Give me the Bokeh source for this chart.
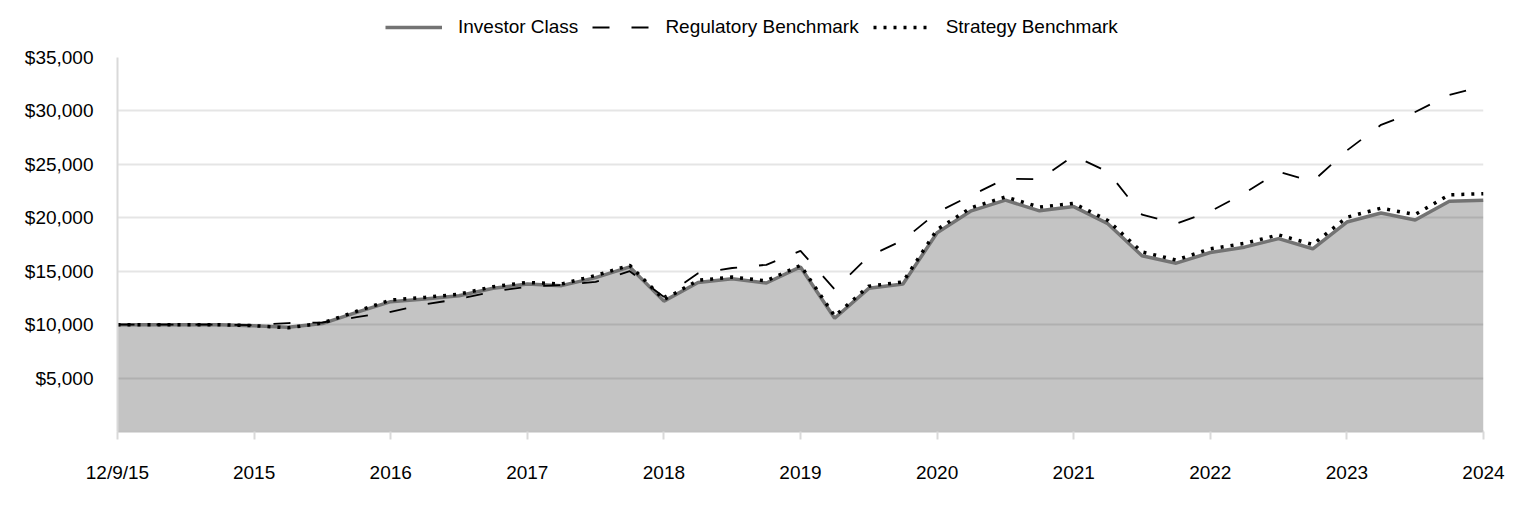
from bokeh.plotting import figure
from bokeh.layouts import column
from bokeh.models import Range1d, FixedTicker, Legend, LegendItem, NumeralTickFormatter
from bokeh.embed import file_html
from bokeh.resources import INLINE

tick_labels = ["12/9/15", "2015", "2016", "2017", "2018", "2019",
               "2020", "2021", "2022", "2023", "2024"]

investor = [10000, 10000, 10000, 10000, 9900, 9750, 10100, 11150, 12150, 12400,
            12700, 13400, 13800, 13650, 14400, 15400, 12200, 13950, 14300, 13900,
            15400, 10600, 13400, 13800, 18600, 20650, 21650, 20650, 21050, 19450,
            16450, 15750, 16750, 17250, 18050, 17100, 19600, 20450, 19800, 21550,
            21650]

strategy = [10000, 10000, 10000, 10000, 9900, 9700, 10150, 11250, 12300, 12550,
            12850, 13550, 13950, 13800, 14600, 15550, 12350, 14150, 14450, 14100,
            15550, 10800, 13600, 14000, 18900, 20950, 21950, 21000, 21350, 19750,
            16800, 16050, 17100, 17600, 18400, 17500, 20050, 20900, 20300, 22150,
            22250]

regulatory = [10000, 10000, 10000, 10000, 9950, 10150, 10200, 10700, 11200, 11900,
              12400, 13100, 13550, 13700, 14000, 15000, 12600, 14800, 15300, 15600,
              16900, 13300, 16400, 17900, 20500, 22100, 23650, 23600, 25800, 24300,
              20300, 19450, 20600, 22300, 24300, 23400, 26300, 28700, 29900, 31500,
              32300]

y_ticks = [5000, 10000, 15000, 20000, 25000, 30000, 35000]

quarter = list(range(len(investor)))
per_label = 4
x_ticks = [per_label * i for i in range(len(tick_labels))]

FONT = "Liberation Sans"
FSIZE = "19px"
W = 1516

INV_STYLE = dict(line_color="#737373", line_width=3.5)
REG_STYLE = dict(line_color="black", line_width=1.8, line_dash="17 22")
STR_STYLE = dict(line_color="black", line_width=3.5, line_dash="3 7")

p = figure(width=W, height=463, output_backend="svg", toolbar_location=None,
           x_range=Range1d(0, quarter[-1]), y_range=Range1d(0, 35000),
           min_border_left=117, min_border_right=33, min_border_top=12,
           min_border_bottom=77)
p.outline_line_color = None
p.background_fill_color = "white"

p.varea(x=quarter, y1=0, y2=investor, fill_color="black", fill_alpha=0.23)
p.line(quarter, investor, **INV_STYLE)
p.line(quarter, regulatory, **REG_STYLE)
p.line(quarter, strategy, **STR_STYLE)

# axes
p.xaxis.ticker = FixedTicker(ticks=x_ticks)
p.xaxis.major_label_overrides = {t: lab for t, lab in zip(x_ticks, tick_labels)}
p.xaxis.axis_line_color = "#c0c0c0"
p.xaxis.axis_line_width = 2
p.xaxis.major_tick_line_color = "#d9d9d9"
p.xaxis.major_tick_line_width = 2
p.xaxis.major_tick_out = 8
p.xaxis.major_tick_in = 0
p.xaxis.minor_tick_line_color = None
p.xaxis.major_label_standoff = 22

p.yaxis.ticker = FixedTicker(ticks=y_ticks)
p.yaxis.formatter = NumeralTickFormatter(format="$0,0")
p.yaxis.axis_line_color = "#d9d9d9"
p.yaxis.axis_line_width = 2
p.yaxis.major_tick_line_color = None
p.yaxis.minor_tick_line_color = None
p.yaxis.major_tick_out = 0
p.yaxis.major_tick_in = 0
p.yaxis.major_label_standoff = 24

for ax in (p.xaxis, p.yaxis):
    ax.major_label_text_font = FONT
    ax.major_label_text_font_size = FSIZE
    ax.major_label_text_color = "black"

p.xgrid.visible = False
p.ygrid.ticker = FixedTicker(ticks=y_ticks)
p.ygrid.grid_line_color = "black"
p.ygrid.grid_line_alpha = 0.1
p.ygrid.grid_line_width = 2

# legend strip on top (its lines carry the same series but fall outside its ranges)
lf = figure(width=W, height=45, output_backend="svg", toolbar_location=None,
            x_range=Range1d(-2, -1), y_range=Range1d(-2, -1),
            x_axis_location=None, y_axis_location=None, min_border=0)
lf.outline_line_color = None
lf.xgrid.visible = False
lf.ygrid.visible = False
k_inv = lf.line(quarter, investor, **INV_STYLE)
k_reg = lf.line(quarter, regulatory, **REG_STYLE)
k_str = lf.line(quarter, strategy, **STR_STYLE)

legend = Legend(items=[LegendItem(label="Investor Class", renderers=[k_inv]),
                       LegendItem(label="Regulatory Benchmark", renderers=[k_reg]),
                       LegendItem(label="Strategy Benchmark", renderers=[k_str])],
                orientation="horizontal", location=(268, 7),
                glyph_width=57, glyph_height=20, label_standoff=16, spacing=14,
                padding=0, margin=0,
                label_text_font=FONT, label_text_font_size=FSIZE,
                label_text_color="black",
                border_line_color=None, background_fill_alpha=0)
lf.add_layout(legend)

layout = column(lf, p, spacing=0)
open("out.html", "w").write(file_html(layout, INLINE))
